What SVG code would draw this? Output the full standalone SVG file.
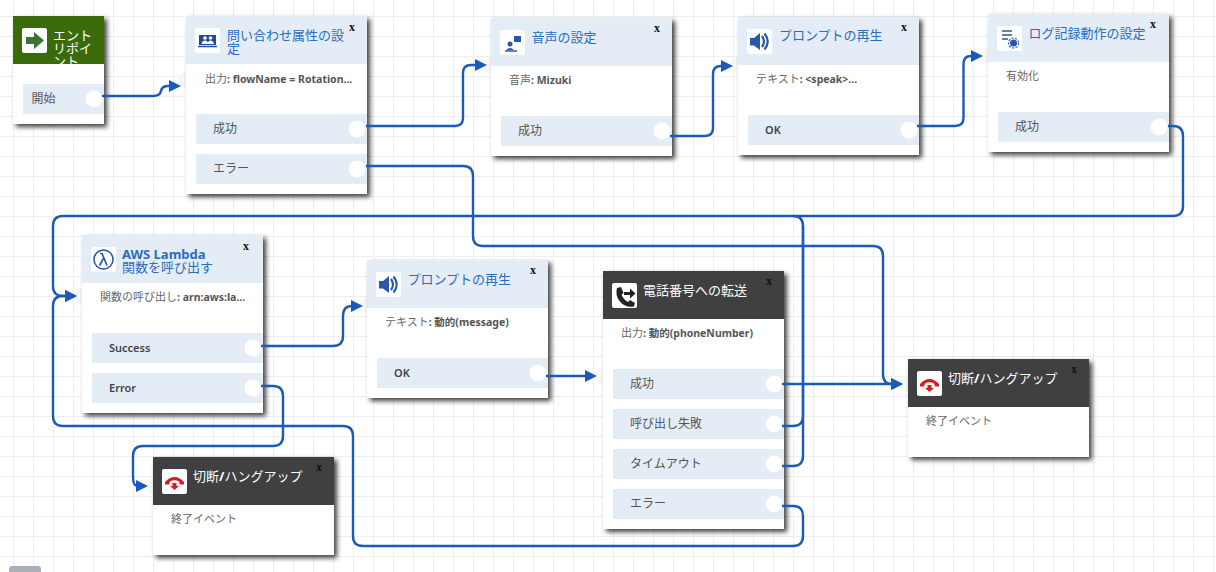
<svg xmlns="http://www.w3.org/2000/svg" xmlns:xlink="http://www.w3.org/1999/xlink" width="1216" height="572" viewBox="0 0 1216 572">
<style>
text{font-family:"Noto Sans","Noto Sans CJK JP",sans-serif}
.card{fill:#fff}
.bodyshadow{filter:url(#sh)}
.hl{fill:#e4ecf6}
.hd{fill:#404040}
.hg{fill:#3b6a0b}
.row{fill:#e4ecf6}
.port{fill:#fff}
.inp{fill:#f7f7f7}
.ib{fill:#fff}
.t{font-size:13px;fill:#2a6ebb}
.tw{font-size:13px;fill:#fff}
.b{font-size:11px;fill:#666}
.b tspan{font-size:10.5px;font-weight:700;fill:#555}
.l{font-size:12px;fill:#555}
.lb{font-size:11px;font-weight:600;fill:#444}
.x{font-family:"Liberation Serif",serif;font-size:12px;font-weight:700;fill:#111}
.c{fill:none;stroke:#1c5ab8;stroke-width:2.4;marker-end:url(#ah)}
.c0{fill:none;stroke:#1c5ab8;stroke-width:2.4}
</style>
<defs>
<pattern id="grid" width="20" height="20" patternUnits="userSpaceOnUse" x="13" y="16"><path d="M0.5 0V20M0 0.5H20" stroke="#eee" stroke-width="1" fill="none"/></pattern>
<filter id="sh" x="-10%" y="-10%" width="125%" height="125%"><feDropShadow dx="3" dy="3" stdDeviation="2.5" flood-color="#000" flood-opacity="0.75"/></filter>
<marker id="ah" markerUnits="userSpaceOnUse" markerWidth="13" markerHeight="13" refX="1" refY="6.5" orient="auto"><path d="M0 .5L12 6.5L0 12.5Z" fill="#1c5ab8"/></marker>
<symbol id="i-speak" viewBox="0 0 25 25" overflow="visible"><rect class="ib" width="25" height="25" rx="2"/><path d="M3 9H7L13 4V21L7 16.500H3Z" fill="#2b57a8"/><path d="M15 7Q19 12.500 15 18M17.500 4.500Q24 12.500 17.500 20.500" fill="none" stroke="#2b57a8" stroke-width="2.200"/></symbol>
<symbol id="i-hang" viewBox="0 0 25 25" overflow="visible"><rect class="ib" width="25" height="25" rx="2"/><path d="M3 13Q12.500 3 22 13L22 15.500H18L17 12.500Q12.500 10 8 12.500L7 15.500H3Z" fill="#cf1f25"/><path d="M10.500 14H14.500V17H17L12.500 21L8 17H10.500Z" fill="#cf1f25"/></symbol>
</defs>
<rect width="1216" height="572" fill="#fff"/>
<rect width="1216" height="572" fill="url(#grid)"/>
<rect x="9" y="566" width="32" height="12" rx="3" fill="#a9b0b8"/>

<g id="inputs">
<circle class="inp" cx="186" cy="80" r="8"/><circle class="inp" cx="491" cy="66" r="8"/><circle class="inp" cx="738" cy="65" r="8"/><circle class="inp" cx="988" cy="56" r="8"/><circle class="inp" cx="82" cy="296" r="8"/><circle class="inp" cx="367" cy="306" r="8"/><circle class="inp" cx="603" cy="376" r="8"/><circle class="inp" cx="908" cy="384" r="8"/><circle class="inp" cx="153" cy="486" r="8"/>
</g>

<g id="n-entry">
<rect class="card bodyshadow" x="13" y="16" width="91" height="108"/>
<rect class="hg" x="13" y="16" width="91" height="48"/>
<rect class="ib" x="22" y="28" width="25" height="25" rx="2"/>
<path d="M26 37H34V32L44 40.500L34 49V44H26Z" fill="#3f7034"/>
<text class="tw" x="53" y="40">エント</text><text class="tw" x="53" y="53">リポイ</text><text class="tw" x="53" y="66">ント</text>
<rect class="card" x="13" y="64" width="91" height="20"/>
<rect class="row" x="23" y="84" width="81" height="30"/>
<circle class="port" cx="94" cy="99" r="8.500"/>
<text class="l" x="31.500" y="103">開始</text>
</g>

<g id="n-attrs">
<rect class="card bodyshadow" x="186" y="16" width="181" height="178"/>
<rect class="hl" x="186" y="16" width="181" height="48"/>
<rect class="ib" x="195" y="28" width="25" height="25" rx="2"/>
<path d="M199 35H216V45H199Z" fill="#24489b"/><path d="M198 46.500H217" stroke="#24489b" stroke-width="1.500"/>
<circle cx="205" cy="38" r="1.800" fill="#fff"/><circle cx="210.500" cy="38" r="1.800" fill="#fff"/><path d="M201.500 44Q202 40.500 205 40.500T208 44ZM207.500 44Q208 40.500 210.500 40.500T214 44Z" fill="#fff"/>
<text class="t" x="227" y="40">問い合わせ属性の設</text><text class="t" x="227" y="53">定</text>
<text class="x" x="349" y="31">x</text>
<text class="b" x="205" y="83">出力<tspan>: flowName = Rotation...</tspan></text>
<rect class="row" x="196" y="114" width="171" height="30"/><circle class="port" cx="357" cy="129" r="8.500"/><text class="l" x="213" y="133">成功</text>
<rect class="row" x="196" y="154" width="171" height="30"/><circle class="port" cx="357" cy="169" r="8.500"/><text class="l" x="213" y="173">エラー</text>
</g>

<g id="n-voice">
<rect class="card bodyshadow" x="491" y="18" width="181" height="138"/>
<rect class="hl" x="491" y="18" width="181" height="48"/>
<rect class="ib" x="500" y="30" width="25" height="25" rx="2"/>
<rect x="514" y="36" width="7" height="6" fill="#2b57a8"/><circle cx="510" cy="44" r="2.500" fill="#2b57a8"/><path d="M506 50Q510 46 514 50Z" fill="#2b57a8"/><path d="M505 51H517" stroke="#2b57a8" stroke-width="1.500"/>
<text class="t" x="531.500" y="42">音声の設定</text>
<text class="x" x="654" y="32">x</text>
<text class="b" x="509" y="84">音声<tspan>: Mizuki</tspan></text>
<rect class="row" x="501" y="116" width="171" height="30"/><circle class="port" cx="662" cy="131" r="8.500"/><text class="l" x="518" y="135">成功</text>
</g>

<g id="n-prompt1">
<rect class="card bodyshadow" x="738" y="17" width="181" height="138"/>
<rect class="hl" x="738" y="17" width="181" height="48"/>
<use xlink:href="#i-speak" href="#i-speak" x="747" y="29" width="25" height="25"/>
<text class="t" x="779" y="40">プロンプトの再生</text>
<text class="x" x="901" y="31">x</text>
<text class="b" x="756" y="83">テキスト<tspan>: &lt;speak&gt;...</tspan></text>
<rect class="row" x="748" y="115" width="171" height="30"/><circle class="port" cx="909" cy="130" r="8.500"/><text class="lb" x="765" y="134">OK</text>
</g>

<g id="n-log">
<rect class="card bodyshadow" x="988" y="14" width="181" height="138"/>
<rect class="hl" x="988" y="14" width="181" height="48"/>
<rect class="ib" x="997" y="26" width="25" height="25" rx="2"/>
<path d="M1002 31H1012M1002 35H1012M1002 39H1008" stroke="#2b57a8" stroke-width="1.600"/>
<circle cx="1013.500" cy="43" r="3.500" fill="#2b57a8"/><circle cx="1013.500" cy="43" r="5" fill="none" stroke="#2b57a8" stroke-width="1.200" stroke-dasharray="2 1.500"/>
<text class="t" x="1028.500" y="38">ログ記録動作の設定</text>
<text class="x" x="1150" y="28">x</text>
<text class="b" x="1006" y="80">有効化</text>
<rect class="row" x="998" y="112" width="171" height="30"/><circle class="port" cx="1159" cy="127" r="8.500"/><text class="l" x="1015" y="131">成功</text>
</g>

<g id="n-lambda">
<rect class="card bodyshadow" x="82" y="235" width="181" height="178"/>
<rect class="hl" x="82" y="235" width="181" height="48"/>
<rect class="ib" x="91" y="247" width="25" height="25" rx="2"/>
<circle cx="103.500" cy="259.500" r="9.500" fill="none" stroke="#2b57a8" stroke-width="1.600"/>
<path d="M100 253.500H102L107 265.500M103.500 258.500L99.500 265.500" fill="none" stroke="#2b57a8" stroke-width="1.700"/>
<text class="t" x="122" y="259" style="font-weight:700">AWS Lambda</text><text class="t" x="122" y="272">関数を呼び出す</text>
<text class="x" x="243" y="250">x</text>
<text class="b" x="100" y="301">関数の呼び出し<tspan>: arn:aws:la...</tspan></text>
<rect class="row" x="92" y="333" width="171" height="30"/><circle class="port" cx="253" cy="348" r="8.500"/><text class="lb" x="109" y="352">Success</text>
<rect class="row" x="92" y="373" width="171" height="30"/><circle class="port" cx="253" cy="388" r="8.500"/><text class="lb" x="109" y="392">Error</text>
</g>

<g id="n-prompt2">
<rect class="card bodyshadow" x="367" y="260" width="181" height="138"/>
<rect class="hl" x="367" y="260" width="181" height="48"/>
<use xlink:href="#i-speak" href="#i-speak" x="376" y="272" width="25" height="25"/>
<text class="t" x="407.500" y="284">プロンプトの再生</text>
<text class="x" x="530" y="274">x</text>
<text class="b" x="385" y="326">テキスト<tspan>: 動的(message)</tspan></text>
<rect class="row" x="377" y="358" width="171" height="30"/><circle class="port" cx="538" cy="373" r="8.500"/><text class="lb" x="394" y="377">OK</text>
</g>

<g id="n-transfer">
<rect class="card bodyshadow" x="603" y="271" width="181" height="258"/>
<rect class="hd" x="603" y="271" width="181" height="48"/>
<rect class="ib" x="612" y="283" width="25" height="25" rx="2"/>
<path d="M617 288L621 287L623.500 293L621.500 295Q624 300 628 302L630 300L635 303L634 306.500Q625 308 619.500 301Q615 295 617 288Z" fill="#222"/>
<path d="M624 292H630V288.500L635.500 293.500L630 298.500V295H624Z" fill="#222"/>
<text class="tw" x="643" y="295">電話番号への転送</text>
<text class="x" x="766" y="285">x</text>
<text class="b" x="621" y="337">出力<tspan>: 動的(phoneNumber)</tspan></text>
<rect class="row" x="613" y="369" width="171" height="30"/><circle class="port" cx="774" cy="384" r="8.500"/><text class="l" x="630" y="388">成功</text>
<rect class="row" x="613" y="409" width="171" height="30"/><circle class="port" cx="774" cy="424" r="8.500"/><text class="l" x="630" y="428">呼び出し失敗</text>
<rect class="row" x="613" y="449" width="171" height="30"/><circle class="port" cx="774" cy="464" r="8.500"/><text class="l" x="630" y="468">タイムアウト</text>
<rect class="row" x="613" y="489" width="171" height="30"/><circle class="port" cx="774" cy="504" r="8.500"/><text class="l" x="630" y="508">エラー</text>
</g>

<g id="n-hang1">
<rect class="card bodyshadow" x="153" y="457" width="181" height="98"/>
<rect class="hd" x="153" y="457" width="181" height="48"/>
<use xlink:href="#i-hang" href="#i-hang" x="162" y="469" width="25" height="25"/>
<text class="tw" x="193" y="481">切断<tspan font-weight="700">/</tspan>ハングアップ</text>
<text class="x" x="316" y="471">x</text>
<text class="b" x="171" y="523">終了イベント</text>
</g>

<g id="n-hang2">
<rect class="card bodyshadow" x="908" y="359" width="181" height="98"/>
<rect class="hd" x="908" y="359" width="181" height="48"/>
<use xlink:href="#i-hang" href="#i-hang" x="917" y="371" width="25" height="25"/>
<text class="tw" x="948" y="383">切断<tspan font-weight="700">/</tspan>ハングアップ</text>
<text class="x" x="1071" y="373">x</text>
<text class="b" x="926" y="425">終了イベント</text>
</g>

<g id="connectors">
<path class="c" d="M102 96H153Q160 96 161 91Q162 86 168 86H170"/>
<path class="c" d="M366 126H455Q463 126 463 118V73Q463 65 471 65H476"/>
<path class="c" d="M670 136H705Q713 136 713 128V74Q713 66 721 66H722"/>
<path class="c" d="M917 126H955Q963.500 126 963.500 118V64Q963.500 56 971 56H972"/>
<path class="c" d="M1168 126H1173Q1183 126 1183 136V206Q1183 216 1173 216H63Q53 216 53 226V286Q53 296 63 296H66"/>
<path class="c" d="M366 166H463Q473 166 473 176V236Q473 246 483 246H873Q883 246 883 256V374Q883 384 892 384"/>
<path class="c" d="M261 346H333Q343 346 343 336V316Q343 306 352 306"/>
<path class="c" d="M261 386H273Q283 386 283 396V436Q283 446 273 446H143Q133 446 133 456V476Q133 486 137 486"/>
<path class="c" d="M546 376H586"/>
<path class="c" d="M782 384H892"/>
<path class="c0" d="M782 426H793Q803 426 803 416V226Q803 216 793 216"/>
<path class="c0" d="M782 466H793Q803 466 803 456V226"/>
<path class="c" d="M782 506H793Q803 506 803 516V536Q803 546 793 546H363Q353 546 353 536V436Q353 426 343 426H63Q53 426 53 416V306Q53 296 63 296H66"/>
</g>
</svg>
